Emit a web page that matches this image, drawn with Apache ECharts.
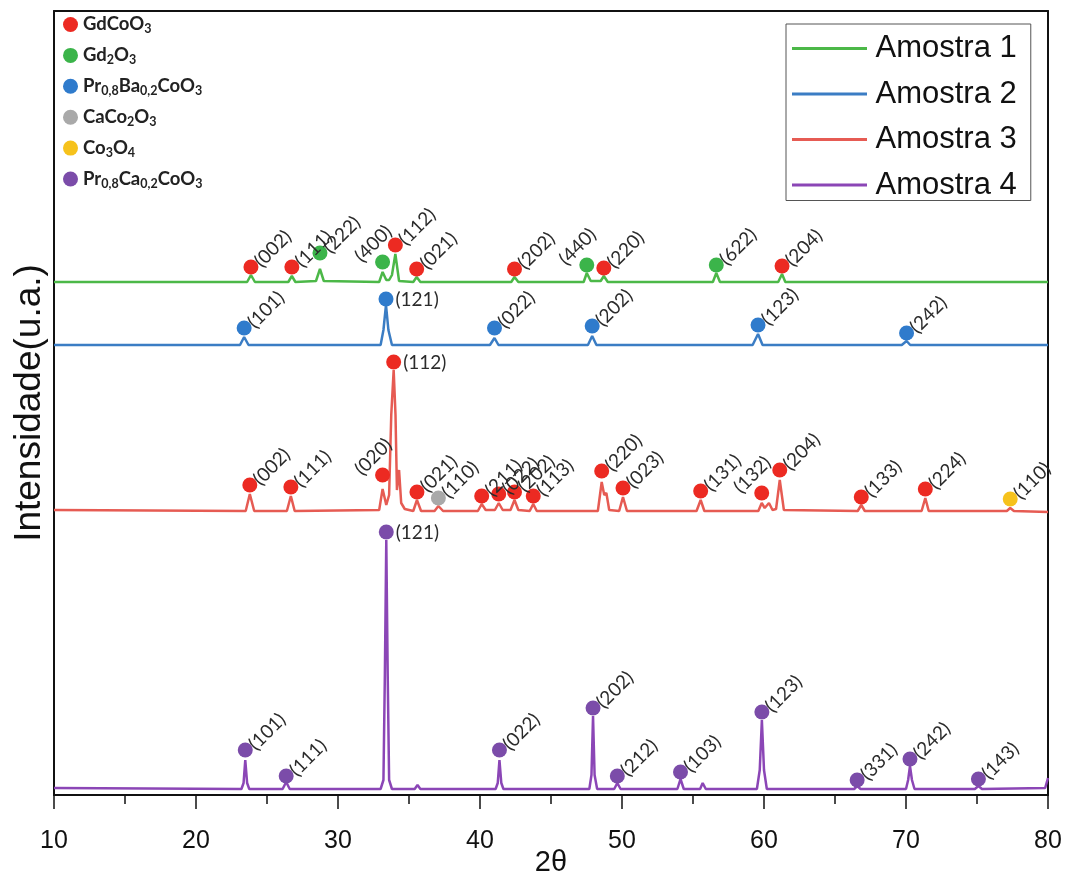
<!DOCTYPE html>
<html>
<head>
<meta charset="utf-8">
<script src="https://cdn.jsdelivr.net/npm/echarts@6/dist/echarts.min.js"></script>
<style>
  html, body { margin: 0; padding: 0; background: #fff; }
  #chart { width: 1076px; height: 884px; }
</style>
</head>
<body>
<div id="chart"></div>
<script>
// 2θ range and tick labels
const xMin = 10
const xMax = 80
const xTicks = [10, 20, 30, 40, 50, 60, 70, 80]

// diffractograms as [2θ, intensity (u.a.)]
const amostra1 = [
  [10, 513], [23.6, 513], [23.87, 520], [24.15, 513], [26.5, 513], [26.75, 519], [27.0, 513],
  [28.45, 514], [28.73, 526], [29.0, 514], [32.9, 513], [33.14, 523], [33.4, 515], [33.6, 515],
  [33.8, 520], [34.04, 541], [34.3, 514], [35.3, 513], [35.54, 518], [35.8, 513], [42.2, 513],
  [42.43, 518], [42.7, 513], [47.3, 513], [47.52, 522], [47.8, 514], [48.5, 514], [48.72, 519],
  [49.0, 513], [56.4, 513], [56.64, 522], [56.9, 513], [61.0, 513], [61.27, 521], [61.5, 513], [80, 513]
]
const amostra2 = [
  [10, 450], [23.1, 450], [23.39, 458], [23.7, 450], [33.0, 450], [33.2, 465], [33.38, 490],
  [33.55, 465], [33.8, 450], [40.7, 450], [41.02, 457], [41.3, 450], [47.6, 450], [47.9, 459],
  [48.2, 450], [59.2, 450], [59.58, 461], [59.9, 450], [69.7, 450], [70.04, 454], [70.3, 450], [80, 450]
]
const amostra3 = [
  [10, 285], [23.5, 284], [23.79, 301], [24.1, 284], [26.4, 284], [26.68, 299], [26.95, 284],
  [32.9, 285], [33.14, 306], [33.4, 290], [33.6, 300], [33.75, 380], [33.92, 425], [34.05, 380],
  [34.15, 305], [34.3, 325], [34.45, 292], [34.7, 286], [35.3, 284], [35.56, 295], [35.85, 284],
  [36.8, 284], [37.07, 289], [37.4, 284], [39.85, 284], [40.12, 291], [40.4, 285], [41.05, 285],
  [41.32, 292], [41.6, 285], [42.15, 285], [42.43, 295], [42.7, 285], [43.5, 284], [43.75, 291],
  [44.0, 284], [48.3, 284], [48.57, 313], [48.75, 300], [48.9, 302], [49.1, 285], [49.8, 284],
  [50.07, 298], [50.35, 284], [55.25, 284], [55.54, 295], [55.8, 284], [59.6, 284], [59.84, 292],
  [60.05, 287], [60.35, 292], [60.6, 285], [60.85, 286], [61.11, 315], [61.4, 285], [66.6, 284],
  [66.85, 290], [67.1, 284], [71.1, 284], [71.36, 297], [71.6, 284], [77.1, 284], [77.34, 287],
  [77.6, 284], [80, 283]
]
const amostra4 = [
  [10, 7], [23.2, 6], [23.35, 12], [23.47, 35], [23.6, 12], [23.75, 6], [26.1, 6], [26.35, 13],
  [26.6, 6], [33.0, 6], [33.2, 15], [33.3, 120], [33.4, 255], [33.5, 120], [33.6, 15], [33.8, 6],
  [35.4, 6], [35.6, 10], [35.8, 6], [41.1, 6], [41.25, 12], [41.37, 35], [41.5, 12], [41.65, 6],
  [47.7, 6], [47.85, 20], [47.96, 79], [48.07, 20], [48.25, 6], [49.45, 6], [49.67, 12], [49.9, 6],
  [53.9, 6], [54.12, 16], [54.35, 6], [55.5, 6], [55.68, 12], [55.9, 6], [59.5, 6], [59.7, 25],
  [59.85, 75], [60.0, 25], [60.2, 6], [66.35, 6], [66.56, 9], [66.8, 6], [70.0, 6], [70.15, 15],
  [70.28, 29], [70.42, 15], [70.6, 6], [74.85, 6], [75.1, 9], [75.35, 6], [79.8, 7], [80, 17]
]
const sampleNames = ['Amostra 1', 'Amostra 2', 'Amostra 3', 'Amostra 4']

// phase markers: [2θ, intensity, (hkl)]
const gdCoO3 = [
  [23.87, 528, '(002)'], [26.75, 528, '(111)'], [34.04, 550, '(112)'], [35.54, 526, '(021)'],
  [42.43, 526, '(202)'], [48.72, 527, '(220)'], [61.27, 529, '(204)'],
  [23.79, 310, '(002)'], [26.68, 308, '(111)'], [33.14, 320, '(020)'], [33.92, 433, '(112)'],
  [35.56, 303, '(021)'], [40.12, 299, '(211)'], [41.32, 301, '(022)'], [42.43, 303, '(202)'],
  [43.75, 299, '(113)'], [48.57, 324, '(220)'], [50.07, 307, '(023)'], [55.54, 304, '(131)'],
  [59.84, 302, '(132)'], [61.11, 325, '(204)'], [66.85, 298, '(133)'], [71.36, 306, '(224)']
]
const gd2O3 = [[28.73, 542, '(222)'], [33.14, 533, '(400)'], [47.52, 530, '(440)'], [56.64, 530, '(622)']]
const prBaCoO3 = [
  [23.39, 467, '(101)'], [33.38, 496, '(121)'], [41.02, 467, '(022)'], [47.9, 469, '(202)'],
  [59.58, 470, '(123)'], [70.04, 462, '(242)']
]
const caCo2O3 = [[37.07, 297, '(110)']]
const co3O4 = [[77.34, 296, '(110)']]
const prCaCoO3 = [
  [23.47, 45, '(101)'], [26.35, 19, '(111)'], [33.4, 263, '(121)'], [41.37, 45, '(022)'],
  [47.96, 87, '(202)'], [49.67, 19, '(212)'], [54.12, 23, '(103)'], [59.85, 83, '(123)'],
  [66.56, 15, '(331)'], [70.28, 36, '(242)'], [75.1, 16, '(143)']
]
const phaseNames = ['GdCoO3', 'Gd2O3', 'Pr0,8Ba0,2CoO3', 'CaCo2O3', 'Co3O4', 'Pr0,8Ca0,2CoO3']
const phaseLabels = [
  '{n|GdCoO}{s|3}',
  '{n|Gd}{s|2}{n|O}{s|3}',
  '{n|Pr}{s|0,8}{n|Ba}{s|0,2}{n|CoO}{s|3}',
  '{n|CaCo}{s|2}{n|O}{s|3}',
  '{n|Co}{s|3}{n|O}{s|4}',
  '{n|Pr}{s|0,8}{n|Ca}{s|0,2}{n|CoO}{s|3}'
]

const lineColors = ['#4cb848', '#3b7dc4', '#e65b53', '#8b46b6']
const markerColors = ['#ec2a22', '#3bb44a', '#2f7bcc', '#a9a9a9', '#f6c21c', '#7b4ca9']

const axisFont = "'Liberation Sans', Arial, sans-serif"

const chart = echarts.init(document.getElementById('chart'), null, { renderer: 'canvas' })

const labelFont = { fontFamily: 'Lato', fontSize: 19, color: '#2b2b2b' }

// which labels sit flat, and which are pushed to the left of the dot
const flatLabels = ['Pr0,8Ba0,2CoO3|33.38', 'Pr0,8Ca0,2CoO3|33.4', 'GdCoO3|33.92']
const leftLabels = ['Gd2O3|33.14', 'Gd2O3|47.52', 'GdCoO3|33.14', 'GdCoO3|59.84']

const toPoints = (phase, rows) => rows.map(r => {
  const key = phase + '|' + r[0]
  let label = { rotate: 45, offset: [0, -4] }
  if (flatLabels.includes(key)) label = { rotate: 0, offset: [0, 1] }
  if (leftLabels.includes(key)) label = { rotate: 45, offset: [-22, -26] }
  return { value: [r[0], r[1]], hkl: r[2], label }
})

const phaseData = [gdCoO3, gd2O3, prBaCoO3, caCo2O3, co3O4, prCaCoO3]

const lineSeries = [amostra1, amostra2, amostra3, amostra4].map((d, i) => ({
  name: sampleNames[i],
  type: 'line',
  data: d,
  symbol: 'none',
  lineStyle: { color: lineColors[i], width: 2.5 },
  itemStyle: { color: lineColors[i] },
  z: 2
}))

const markerSeries = phaseData.map((d, i) => ({
  name: phaseNames[i],
  type: 'scatter',
  data: toPoints(phaseNames[i], d),
  symbol: 'circle',
  symbolSize: 15,
  itemStyle: { color: markerColors[i], opacity: 1 },
  label: {
    show: true,
    position: 'right',
    distance: 2,
    align: 'left',
    verticalAlign: 'middle',
    ...labelFont,
    formatter: p => p.data.hkl
  },
  z: 5
}))

const option = {
  animation: false,
  backgroundColor: '#fff',
  grid: { left: 54, right: 28, top: 11, bottom: 89, outerBoundsMode: 'none', containLabel: false },
  legend: [
    {
      data: phaseNames,
      orient: 'vertical',
      left: 58,
      top: 10,
      icon: 'circle',
      itemWidth: 15,
      itemHeight: 15,
      itemGap: 10.4,
      selectedMode: false,
      formatter: name => phaseLabels[phaseNames.indexOf(name)],
      textStyle: {
        rich: {
          n: { fontFamily: 'Lato', fontSize: 18.5, fontWeight: 'bold', color: '#222' },
          s: { fontFamily: 'Lato', fontSize: 12.5, fontWeight: 'bold', color: '#222', padding: [9, 0, 0, 0] }
        }
      }
    },
    {
      data: sampleNames,
      orient: 'vertical',
      left: 786,
      top: 24,
      icon: 'path://M0,0H100V4H0Z',
      itemWidth: 76,
      itemHeight: 3,
      itemGap: 14.5,
      padding: [9, 14, 0, 6],
      borderColor: '#555',
      borderWidth: 1,
      selectedMode: false,
      textStyle: { fontFamily: 'Liberation Sans', fontSize: 31, color: '#111', padding: [0, 0, 0, 3] }
    }
  ],
  xAxis: [
    {
      type: 'value',
      min: xMin,
      max: xMax,
      interval: 10,
      name: '2θ',
      nameLocation: 'middle',
      nameGap: 53,
      nameMoveOverlap: false,
      nameTextStyle: { fontFamily: axisFont, fontSize: 29, color: '#111' },
      axisLine: { show: true, lineStyle: { color: '#111', width: 2 } },
      axisTick: { show: true, inside: false, length: 14, lineStyle: { color: '#111', width: 1.5 } },
      minorTick: { show: true, splitNumber: 2, length: 9, lineStyle: { color: '#111', width: 1.5 } },
      axisLabel: {
        margin: 34,
        fontFamily: axisFont,
        fontSize: 25,
        color: '#111',
        formatter: v => (xTicks.includes(v) ? String(v) : '')
      },
      splitLine: { show: false }
    },
    {
      type: 'value',
      position: 'top',
      min: xMin,
      max: xMax,
      axisLine: { show: true, onZero: false, lineStyle: { color: '#111', width: 2 } },
      axisTick: { show: false },
      axisLabel: { show: false },
      splitLine: { show: false }
    }
  ],
  yAxis: [
    {
      type: 'value',
      min: 0,
      max: 784,
      name: 'Intensidade(u.a.)',
      nameLocation: 'middle',
      nameGap: 6,
      nameTextStyle: { fontFamily: 'Liberation Sans', fontSize: 37, color: '#111' },
      axisLine: { show: true, lineStyle: { color: '#111', width: 2 } },
      axisTick: { show: false },
      axisLabel: { show: false },
      splitLine: { show: false }
    },
    {
      type: 'value',
      position: 'right',
      min: 0,
      max: 784,
      axisLine: { show: true, onZero: false, lineStyle: { color: '#111', width: 2 } },
      axisTick: { show: false },
      axisLabel: { show: false },
      splitLine: { show: false }
    }
  ],
  series: [...lineSeries, ...markerSeries]
}

chart.setOption(option)
window.addEventListener('resize', () => chart.resize())
</script>
</body>
</html>
